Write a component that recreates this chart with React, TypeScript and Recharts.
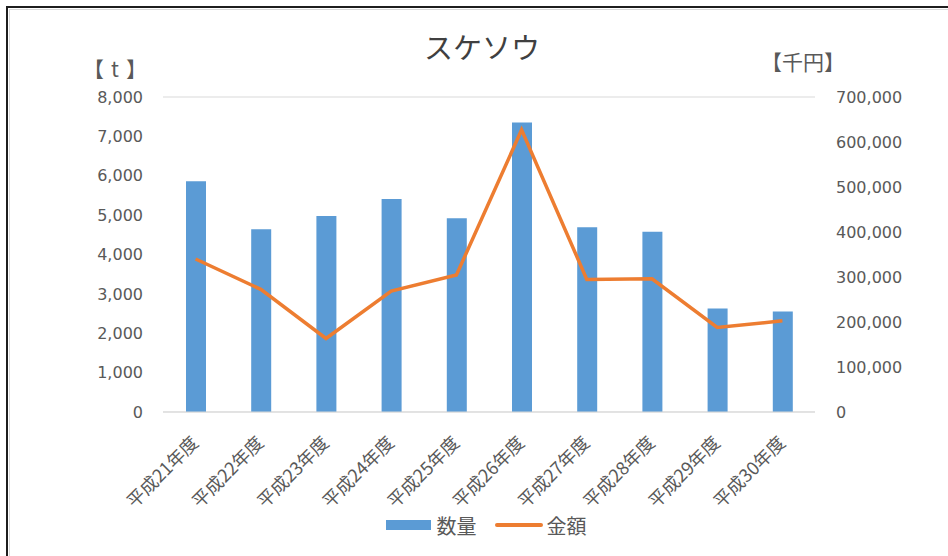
import React from 'react';
import { ComposedChart, Bar, Line, XAxis, YAxis, CartesianGrid, Legend } from 'recharts';

const years = ['平成21年度', '平成22年度', '平成23年度', '平成24年度', '平成25年度', '平成26年度', '平成27年度', '平成28年度', '平成29年度', '平成30年度'];
const quantity = [5860, 4640, 4980, 5410, 4920, 7350, 4690, 4580, 2630, 2550];
const amount = [340000, 272500, 163400, 268700, 304300, 627000, 294700, 296000, 187900, 202600];
const leftTicks = [0, 1000, 2000, 3000, 4000, 5000, 6000, 7000, 8000];
const rightTicks = [0, 100000, 200000, 300000, 400000, 500000, 600000, 700000];

const data = years.map((name, i) => ({ name, quantity: quantity[i], amount: amount[i] }));

const TEXT = '#595959';
const GRID = '#d9d9d9';
const BLUE = '#5b9bd5';
const ORANGE = '#ed7d31';
const JP = '"Noto Sans CJK JP", "Noto Sans", sans-serif';
const NUM = '"DejaVu Sans", sans-serif';

const fmt = (v: number) => v.toLocaleString('en-US');

// category labels tilted 45°, ending just right of the bar centre
const YearTick = (props: any) => {
    const { x, y, payload } = props;
    return (
        <g transform={`translate(${x + 4},${y + 24})`}>
            <text transform="rotate(-45)" textAnchor="end" fill={TEXT} fontSize={18} fontFamily={JP}>
                {payload.value}
            </text>
        </g>
    );
};

const LegendBox = () => (
    <div style={{ height: 40, width: 948, display: 'flex', justifyContent: 'center', alignItems: 'flex-start', paddingLeft: 24, boxSizing: 'border-box', fontFamily: JP, fontSize: 20, color: TEXT, lineHeight: '20px' }}>
        <span style={{ display: 'inline-block', width: 45, height: 10, background: BLUE, marginTop: 4, marginRight: 6 }} />
        <span>数量</span>
        <span style={{ display: 'inline-block', width: 48, height: 4, borderRadius: 2, background: ORANGE, marginTop: 7, marginLeft: 18, marginRight: 4 }} />
        <span>金額</span>
    </div>
);

const App: React.FC = () => {
    return (
        <div style={{ position: 'absolute', left: 0, top: 0, width: 948, height: 556, background: '#fff', overflow: 'hidden' }}>
            {/* frame */}
            <div style={{ position: 'absolute', left: 6, top: 6, width: 960, height: 570, borderTop: '2px solid #1e1e1e', borderLeft: '2px solid #1e1e1e' }} />
            <div style={{ position: 'absolute', left: 9, top: 9, width: 960, height: 570, borderTop: `1px solid ${GRID}`, borderLeft: `1px solid ${GRID}` }} />

            <div style={{ position: 'absolute', left: 0, top: 0 }}>
                <ComposedChart width={948} height={556} data={data} margin={{ top: 97, right: 0, bottom: 0, left: 0 }}>
                    <CartesianGrid vertical={false} stroke={GRID} strokeWidth={1} />
                    <XAxis
                        dataKey="name"
                        height={104}
                        axisLine={{ stroke: GRID }}
                        tickLine={false}
                        interval={0}
                        tick={<YearTick />}
                    />
                    <YAxis
                        yAxisId="left"
                        width={163}
                        domain={[0, 8000]}
                        ticks={leftTicks}
                        axisLine={false}
                        tickLine={false}
                        tickMargin={14}
                        tickFormatter={fmt}
                        tick={{ fill: TEXT, fontSize: 16, fontFamily: NUM }}
                    />
                    <YAxis
                        yAxisId="right"
                        orientation="right"
                        width={133}
                        domain={[0, 700000]}
                        ticks={rightTicks}
                        axisLine={false}
                        tickLine={false}
                        tickMargin={15}
                        tickFormatter={fmt}
                        tick={{ fill: TEXT, fontSize: 16, fontFamily: NUM, textAnchor: 'start' }}
                    />
                    <Legend verticalAlign="bottom" content={<LegendBox />} wrapperStyle={{ left: 0, width: 948 }} />
                    <Bar yAxisId="left" dataKey="quantity" name="数量" fill={BLUE} barSize={20} isAnimationActive={false} />
                    <Line yAxisId="right" dataKey="amount" name="金額" type="linear" stroke={ORANGE} strokeWidth={3.5} dot={false} isAnimationActive={false} />
                </ComposedChart>
            </div>

            <div style={{ position: 'absolute', left: 0, width: 964, top: 29, textAlign: 'center', fontFamily: JP, fontSize: 29, lineHeight: '34px', color: '#404040' }}>
                スケソウ
            </div>
            <div style={{ position: 'absolute', left: 83, top: 56, fontFamily: JP, fontSize: 21, lineHeight: '24px', letterSpacing: 7, color: TEXT }}>
                【t】
            </div>
            <div style={{ position: 'absolute', left: 761, top: 49, fontFamily: JP, fontSize: 21, lineHeight: '24px', color: TEXT }}>
                【千円】
            </div>
        </div>
    );
};

export default App;
